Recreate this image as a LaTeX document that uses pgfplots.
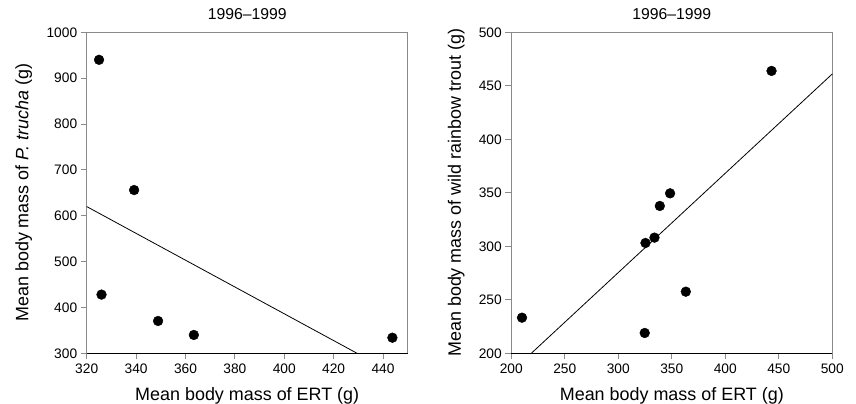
\documentclass[border=0pt]{standalone}
\usepackage{fontspec}
\setmainfont{Liberation Sans}
\usepackage{pgfplots}
\pgfplotsset{compat=1.18}
\definecolor{framegray}{HTML}{8A8A8A}
\begin{document}
\begin{tikzpicture}
\pgfplotsset{
  myaxis/.style={
    scale only axis, width=321bp, height=321bp,
    anchor=south west,
    /pgf/number format/assume math mode=true,
    /pgf/number format/1000 sep={},
    tick label style={font=\fontsize{13.8}{15}\selectfont},
    label style={font=\fontsize{18}{20}\selectfont},
    title style={font=\fontsize{15.8}{18}\selectfont, at={(axis description cs:0.5,1.0227)}, anchor=base},
    tick align=outside, major tick length=6bp,
    xtick pos=bottom, ytick pos=left,
    axis line style={framegray, line width=1.3bp},
    every tick/.style={framegray, line width=1bp},
    xticklabel style={yshift=-1bp},
    xlabel style={at={(axis description cs:0.5,-0.1455)}, anchor=base},
    clip=false,
  },
  dots/.style={only marks, mark=*, mark size=4.9bp, mark options={fill=black, draw=black}},
}
\draw[use as bounding box, draw=none] (0bp,0bp) rectangle (856bp,404bp);
\begin{axis}[myaxis, at={(86.7bp,50.7bp)},
  xmin=320, xmax=450, ymin=300, ymax=1000,
  xtick={320,340,...,440}, ytick={300,400,...,1000},
  title={1996–1999},
  xlabel={Mean body mass of ERT (g)},
  ylabel={Mean body mass of \textit{P. trucha} (g)},
  ylabel style={at={(axis description cs:-0.182,0.5)}, anchor=base},
]
\draw[black, line width=1bp] (rel axis cs:0,0) -- (rel axis cs:1,0);
\addplot[black, line width=0.8bp] coordinates {(320,620) (429.5,300)};
\addplot[dots] coordinates {
(325,940) (339.2,656) (326,428) (348.9,370.5) (363.4,340) (443.8,334)
};
\end{axis}
\begin{axis}[myaxis, at={(511.3bp,50.7bp)},
  xmin=200, xmax=500, ymin=200, ymax=500,
  xtick={200,250,...,500}, ytick={200,250,...,500},
  title={1996–1999},
  xlabel={Mean body mass of ERT (g)},
  ylabel={Mean body mass of wild rainbow trout (g)},
  ylabel style={at={(axis description cs:-0.157,0.5)}, anchor=base},
]
\draw[black, line width=1bp] (rel axis cs:0,0) -- (rel axis cs:1,0);
\addplot[black, line width=0.8bp] coordinates {(218.7,200) (500,461.1)};
\addplot[dots] coordinates {
(210,233.3) (324.7,219) (325.4,303.1) (333.8,308.1) (338.8,337.7) (348.4,349.5) (363.1,257.6) (443.2,463.9)
};
\end{axis}
\end{tikzpicture}
\end{document}
